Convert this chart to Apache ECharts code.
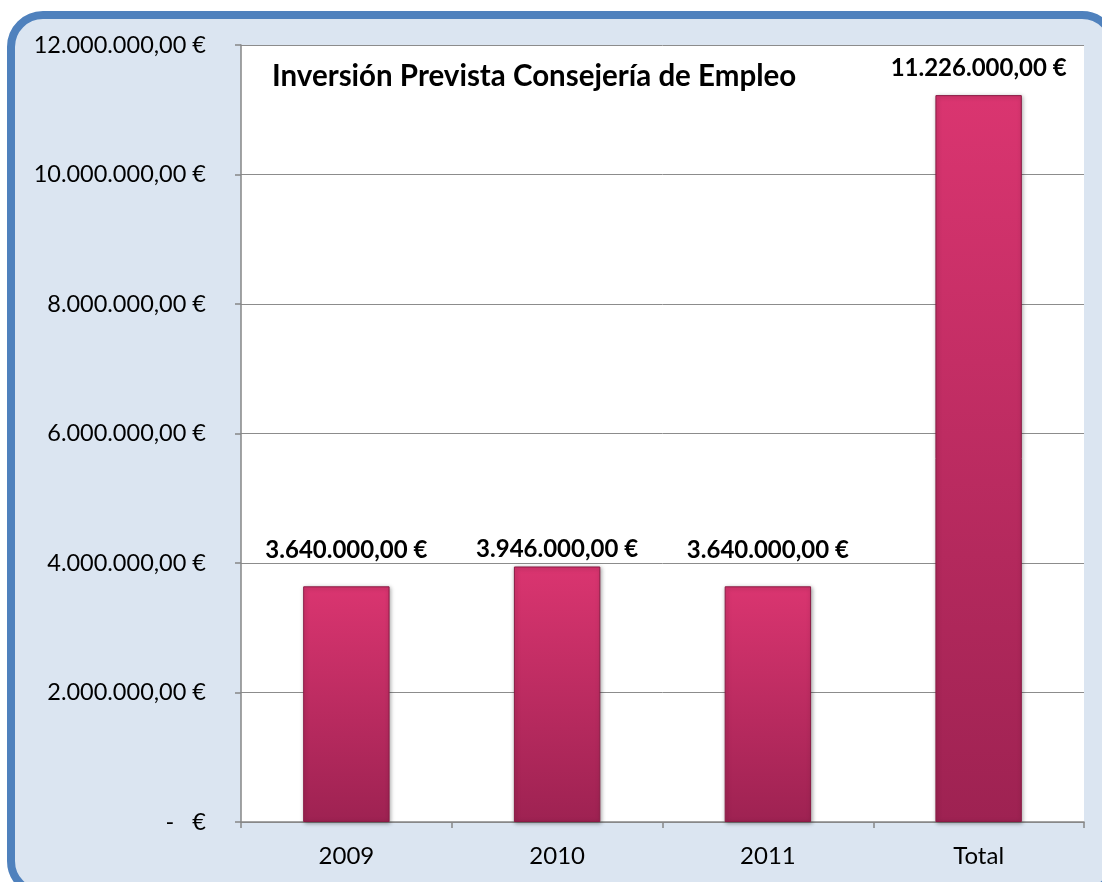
<!DOCTYPE html>
<html>
<head>
<meta charset="utf-8">
<script src="https://cdn.jsdelivr.net/npm/echarts@6/dist/echarts.min.js"></script>
<style>
  html, body { margin: 0; padding: 0; background: #fff; }
  #chart { width: 1102px; height: 882px; }
</style>
</head>
<body>
<div id="chart"></div>
<script>
// datos de la grafica
var categorias = ["2009", "2010", "2011", "Total"];
var inversion = [3640000, 3946000, 3640000, 11226000];
var titulo = "Inversión Prevista Consejería de Empleo";

function euros(v) {
  if (v === 0) return "-   €";
  var s = String(Math.round(v)).replace(/\B(?=(\d{3})+(?!\d))/g, ".");
  return s + ",00 €";
}

// separacion de cada etiqueta (en Excel estaban colocadas a mano)
var distancias = [24, 5, 24, 15];

var chart = echarts.init(document.getElementById("chart"));

var barColor = new echarts.graphic.LinearGradient(0, 0, 0, 1, [
  { offset: 0, color: "#da3570" },
  { offset: 1, color: "#9e2252" }
]);

var option = {
  backgroundColor: "#ffffff",
  textStyle: { fontFamily: "Lato, 'Open Sans', sans-serif" },
  graphic: [
    {
      type: "rect",
      z: -10,
      silent: true,
      shape: { x: 11, y: 15, width: 1103, height: 878, r: 32 },
      style: { fill: "#dbe5f1", stroke: "#4f81bd", lineWidth: 8 }
    },
    {
      type: "text",
      left: 272,
      top: 61,
      z: 10,
      style: {
        text: titulo,
        font: "bold 29.5px Lato, 'Open Sans', sans-serif",
        fill: "#000"
      }
    }
  ],
  grid: {
    left: 241,
    right: 18,
    top: 45,
    bottom: 60,
    show: true,
    backgroundColor: "#ffffff",
    borderWidth: 0
  },
  xAxis: {
    type: "category",
    data: categorias,
    axisLine: { lineStyle: { color: "#868686", width: 1.5 } },
    axisTick: { show: true, length: 6, lineStyle: { color: "#868686", width: 1.5 } },
    axisLabel: { color: "#000", fontSize: 24, margin: 22 }
  },
  yAxis: {
    type: "value",
    min: 0,
    max: 12000000,
    interval: 2000000,
    axisLine: { show: true, lineStyle: { color: "#868686", width: 1.5 } },
    axisTick: { show: true, length: 6, lineStyle: { color: "#868686", width: 1.5 } },
    splitLine: { lineStyle: { color: "#8c8c8c", width: 1 } },
    axisLabel: {
      color: "#000",
      fontSize: 23.5,
      margin: 35,
      formatter: euros
    }
  },
  series: [
    {
      type: "bar",
      barWidth: "41%",
      data: inversion.map(function (v, i) {
        return { value: v, label: { distance: distancias[i] } };
      }),
      itemStyle: {
        color: barColor,
        borderColor: "#8a1c45",
        borderWidth: 1,
        shadowColor: "rgba(0,0,0,0.35)",
        shadowBlur: 4,
        shadowOffsetX: 1,
        shadowOffsetY: 1
      },
      label: {
        show: true,
        position: "top",
        color: "#000",
        fontWeight: "bold",
        fontSize: 24,
        formatter: function (p) { return euros(p.value); }
      }
    }
  ]
};

chart.setOption(option);
</script>
</body>
</html>
